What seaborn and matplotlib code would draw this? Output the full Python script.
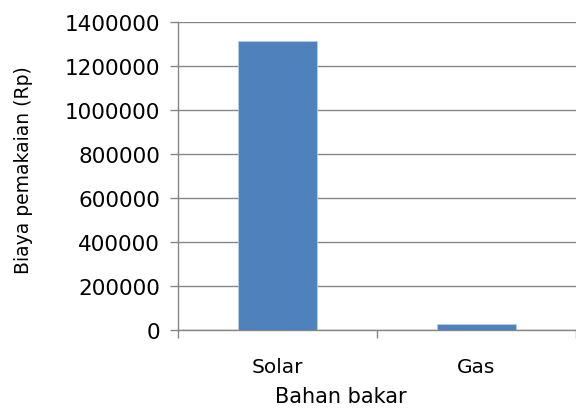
import matplotlib
matplotlib.use("Agg")
import matplotlib.pyplot as plt
import seaborn as sns
import pandas as pd

categories = ["Solar", "Gas"]
values = [1317000, 25000]
yticks = [0, 200000, 400000, 600000, 800000, 1000000, 1200000, 1400000]

sns.set_theme(style="white")
plt.rcParams['font.family'] = ['DejaVu Sans']
plt.rcParams['text.color'] = 'black'
plt.rcParams['xtick.labelcolor'] = 'black'
plt.rcParams['ytick.labelcolor'] = 'black'

df = pd.DataFrame({"Bahan bakar": categories, "Biaya": values})

fig = plt.figure(figsize=(5.76, 4.10), dpi=100)
ax = fig.add_axes([0.309, 0.1934, 0.691, 0.7493])
sns.barplot(data=df, x="Bahan bakar", y="Biaya", ax=ax, color="#4F81BD",
            saturation=1, width=0.4, edgecolor="#B9CDE5", linewidth=0.6, zorder=3)

gc = "#868686"
ax.set_ylim(0, 1400000)
ax.set_xlim(-0.5, 1.5)
ax.set_yticks(yticks)
ax.set_yticklabels([str(v) for v in yticks])
ax.yaxis.grid(True, color=gc, linewidth=1.0, zorder=0)
ax.set_axisbelow(True)
for s in ["top", "right"]:
    ax.spines[s].set_visible(False)
for s in ["left", "bottom"]:
    ax.spines[s].set_color(gc)
    ax.spines[s].set_linewidth(1.0)

# category ticks at boundaries
ax.set_xticks([-0.5, 0.5, 1.5], minor=False)
ax.set_xticklabels(["", "", ""])
ax.set_xticks([0, 1], minor=True)
ax.set_xticklabels(categories, minor=True, color="black")
ax.tick_params(axis="x", which="major", direction="out", length=6, color=gc, width=1.0, bottom=True)
ax.tick_params(axis="x", which="minor", length=0, pad=20, labelsize=14.5, labelcolor="black")
ax.tick_params(axis="y", direction="out", length=6, color=gc, width=1.0, left=True,
               labelsize=15.5, pad=7, labelcolor="black")

ax.set_xlabel("Bahan bakar", fontsize=15, color="black")
ax.set_ylabel("Biaya pemakaian (Rp)", fontsize=13.5, color="black")
ax.xaxis.set_label_coords(0.41, -0.216)
ax.xaxis.label.set_va("center")
ax.yaxis.set_label_coords(-0.389, 0.523)
ax.yaxis.label.set_va("center")

fig.savefig("out.png", dpi=100)
